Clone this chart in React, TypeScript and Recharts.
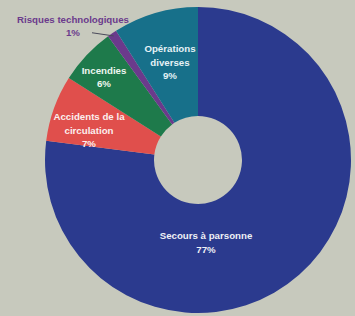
import React from 'react';
import { PieChart, Pie, Cell } from 'recharts';

const categories = [
  'Secours à parsonne',
  'Accidents de la circulation',
  'Incendies',
  'Risques technologiques',
  'Opérations diverses',
];
const shares = [77, 7, 6, 1, 9];
const labelLines = [
  ['Secours à parsonne'],
  ['Accidents de la', 'circulation'],
  ['Incendies'],
  ['Risques technologiques'],
  ['Opérations', 'diverses'],
];
const percentLabels = ['77%', '7%', '6%', '1%', '9%'];

const colors = ['#2b3a8e', '#e04f4c', '#1e7a4b', '#6b3a8c', '#17708a'];
const textColors = ['#eef0f5', '#fbeeee', '#eef6f0', '#6b3a8c', '#e6f2f6'];
// label block centre offsets relative to pie centre (layout only)
const labelOffsets: [number, number][] = [
  [8, 82.5],
  [-109, -30],
  [-94, -83],
  [-125, -134],
  [-28, -98],
];

const data = categories.map((name, i) => ({ name, value: shares[i] }));

const RADIAN = Math.PI / 180;
const LINE_H = 13.5;

const renderLabel = (props: any) => {
  const { cx, cy, index, midAngle, outerRadius } = props;
  const lines = [...labelLines[index], percentLabels[index]];
  const [dx, dy] = labelOffsets[index];
  const bx = cx + dx;
  const by = cy + dy;
  const n = lines.length;
  const items = lines.map((t, i) => (
    <text
      key={i}
      x={bx}
      y={by + (i - (n - 1) / 2) * LINE_H}
      textAnchor="middle"
      dominantBaseline="central"
      fill={textColors[index]}
      fontSize={9.7}
      fontWeight={700}
      fontFamily="'Liberation Sans', Arial, Helvetica, sans-serif"
    >
      {t}
    </text>
  ));
  let leader = null;
  if (index === 3) {
    const r = outerRadius - 3;
    const ex = cx + r * Math.cos(-midAngle * RADIAN);
    const ey = cy + r * Math.sin(-midAngle * RADIAN);
    leader = (
      <line x1={bx + 19} y1={by + LINE_H / 2} x2={ex} y2={ey} stroke="#4a4a5a" strokeWidth={1} />
    );
  }
  return (
    <g key={`lbl-${index}`}>
      {items}
      {leader}
    </g>
  );
};

export default function App() {
  return (
    <div style={{ position: 'absolute', left: 0, top: 0, width: 355, height: 316, background: '#c7c9bd' }}>
      <PieChart width={355} height={316} margin={{ top: 0, right: 0, bottom: 0, left: 0 }}>
        <Pie
          data={data}
          dataKey="value"
          nameKey="name"
          cx={198}
          cy={160}
          innerRadius={44}
          outerRadius={153}
          startAngle={90}
          endAngle={-270}
          stroke="none"
          label={renderLabel}
          labelLine={false}
          isAnimationActive={false}
        >
          {data.map((d, i) => (
            <Cell key={d.name} fill={colors[i]} />
          ))}
        </Pie>
      </PieChart>
    </div>
  );
}
